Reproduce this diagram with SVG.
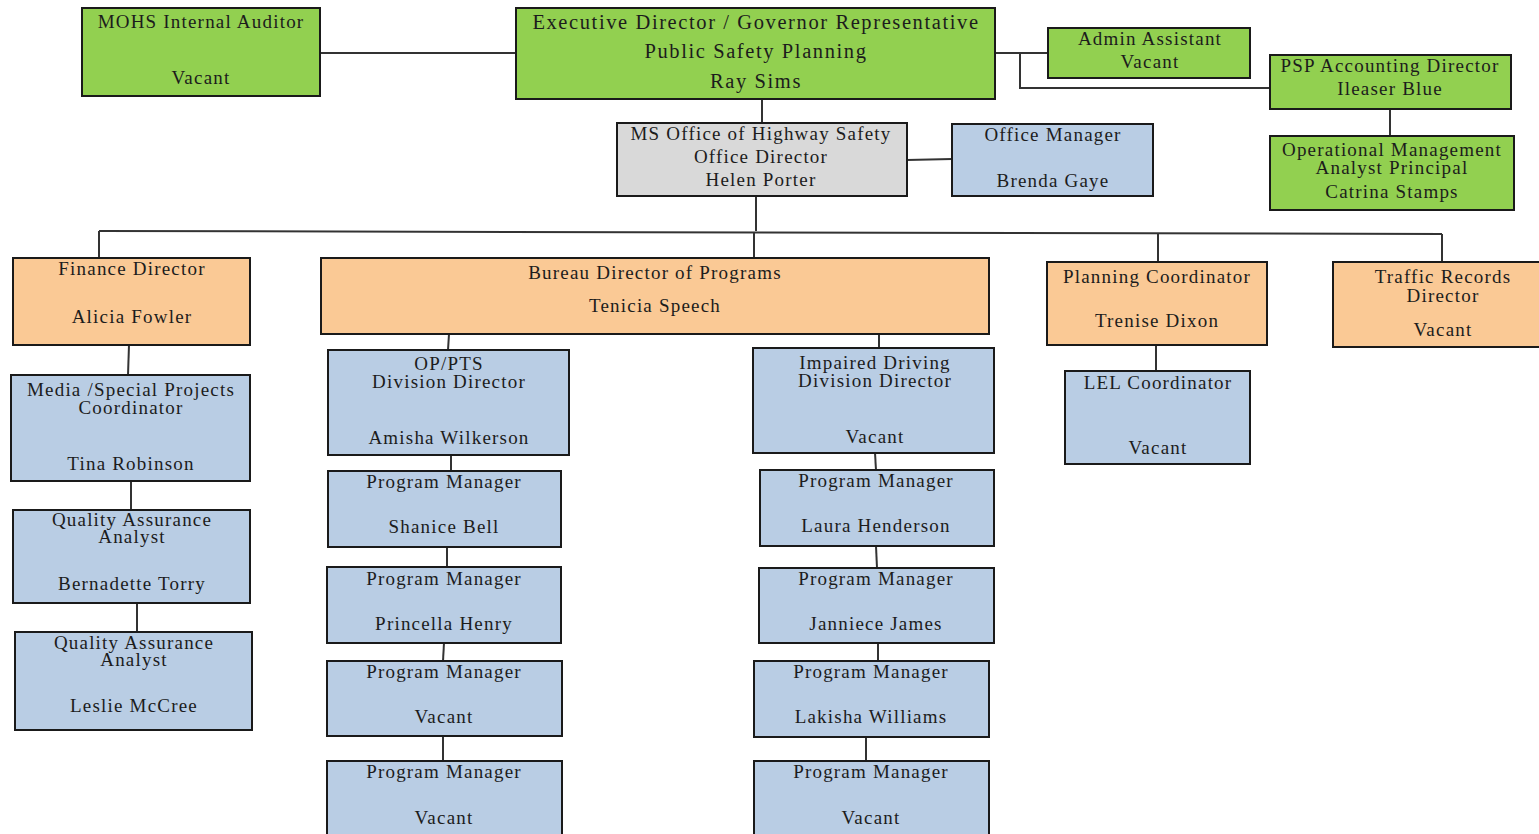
<svg xmlns="http://www.w3.org/2000/svg" width="1539" height="834" viewBox="0 0 1539 834">
<style>
.b{stroke:#1a1a1a;stroke-width:2}
.g{fill:#92d050}
.o{fill:#fac995}
.u{fill:#b9cde4}
.y{fill:#d9d9d9}
text{font-family:"Liberation Serif","Times New Roman",serif;font-size:19px;fill:#1c1c1c;text-anchor:middle;letter-spacing:1.2px}
text.big{font-size:20.5px;letter-spacing:1.6px}
.c line,.c polyline{stroke:#333;stroke-width:2;fill:none}
</style>
<rect width="1539" height="834" fill="#ffffff"/>
<g class="c" id="connectors">
<line x1="320" y1="53" x2="516" y2="53"/>
<line x1="995" y1="53" x2="1048" y2="53"/>
<polyline points="1020,53 1020,88 1270,88"/>
<line x1="762" y1="99" x2="762" y2="123"/>
<line x1="907" y1="160" x2="952" y2="159"/>
<line x1="756" y1="196" x2="756" y2="231"/>
<line x1="99" y1="231" x2="1442" y2="234"/>
<line x1="99" y1="231" x2="99" y2="258"/>
<line x1="754" y1="232" x2="754" y2="258"/>
<line x1="1158" y1="233" x2="1158" y2="262"/>
<line x1="1442" y1="234" x2="1442" y2="262"/>
<line x1="1390" y1="109" x2="1390" y2="136"/>
<line x1="129" y1="345" x2="128" y2="375"/>
<line x1="131" y1="481" x2="131" y2="510"/>
<line x1="137" y1="603" x2="137" y2="632"/>
<line x1="449" y1="334" x2="448" y2="350"/>
<line x1="879" y1="334" x2="879" y2="348"/>
<line x1="451" y1="455" x2="451" y2="471"/>
<line x1="447" y1="547" x2="447" y2="567"/>
<line x1="444" y1="643" x2="443" y2="661"/>
<line x1="443" y1="736" x2="443" y2="761"/>
<line x1="875" y1="453" x2="876" y2="470"/>
<line x1="876" y1="546" x2="877" y2="568"/>
<line x1="878" y1="643" x2="878" y2="661"/>
<line x1="866" y1="737" x2="866" y2="761"/>
<line x1="1156" y1="345" x2="1156" y2="371"/>
</g>
<g id="auditor"><rect class="b g" x="82" y="8" width="238" height="88"/><text x="201" y="28">MOHS Internal Auditor</text><text x="201" y="84">Vacant</text></g>
<g id="exec"><rect class="b g" x="516" y="8" width="479" height="91"/><text class="big" x="756" y="29">Executive Director / Governor Representative</text><text class="big" x="756" y="58">Public Safety Planning</text><text class="big" x="756" y="88">Ray Sims</text></g>
<g id="admin"><rect class="b g" x="1048" y="28" width="202" height="50"/><text x="1150" y="45">Admin Assistant</text><text x="1150" y="68">Vacant</text></g>
<g id="psp"><rect class="b g" x="1270" y="55" width="241" height="54"/><text x="1390" y="72">PSP Accounting Director</text><text x="1390" y="95">Ileaser Blue</text></g>
<g id="oma"><rect class="b g" x="1270" y="136" width="244" height="74"/><text x="1392" y="156">Operational Management</text><text x="1392" y="174">Analyst Principal</text><text x="1392" y="198">Catrina Stamps</text></g>
<g id="mohs"><rect class="b y" x="617" y="123" width="290" height="73"/><text x="761" y="140">MS Office of Highway Safety</text><text x="761" y="163">Office Director</text><text x="761" y="186">Helen Porter</text></g>
<g id="officemgr"><rect class="b u" x="952" y="124" width="201" height="72"/><text x="1053" y="141">Office Manager</text><text x="1053" y="187">Brenda Gaye</text></g>
<g id="finance"><rect class="b o" x="13" y="258" width="237" height="87"/><text x="132" y="275">Finance Director</text><text x="132" y="323">Alicia Fowler</text></g>
<g id="bureau"><rect class="b o" x="321" y="258" width="668" height="76"/><text x="655" y="279">Bureau Director of Programs</text><text x="655" y="312">Tenicia Speech</text></g>
<g id="planning"><rect class="b o" x="1047" y="262" width="220" height="83"/><text x="1157" y="283">Planning Coordinator</text><text x="1157" y="327">Trenise Dixon</text></g>
<g id="traffic"><rect class="b o" x="1333" y="262" width="210" height="85"/><text x="1443" y="283">Traffic Records</text><text x="1443" y="302">Director</text><text x="1443" y="336">Vacant</text></g>
<g id="media"><rect class="b u" x="11" y="375" width="239" height="106"/><text x="131" y="396">Media /Special Projects</text><text x="131" y="414">Coordinator</text><text x="131" y="470">Tina Robinson</text></g>
<g id="qa1"><rect class="b u" x="13" y="510" width="237" height="93"/><text x="132" y="526">Quality Assurance</text><text x="132" y="543">Analyst</text><text x="132" y="590">Bernadette Torry</text></g>
<g id="qa2"><rect class="b u" x="15" y="632" width="237" height="98"/><text x="134" y="649">Quality Assurance</text><text x="134" y="666">Analyst</text><text x="134" y="712">Leslie McCree</text></g>
<g id="oppts"><rect class="b u" x="328" y="350" width="241" height="105"/><text x="449" y="370">OP/PTS</text><text x="449" y="388">Division Director</text><text x="449" y="444">Amisha Wilkerson</text></g>
<g id="pm1"><rect class="b u" x="328" y="471" width="233" height="76"/><text x="444" y="488">Program Manager</text><text x="444" y="533">Shanice Bell</text></g>
<g id="pm2"><rect class="b u" x="327" y="567" width="234" height="76"/><text x="444" y="585">Program Manager</text><text x="444" y="630">Princella Henry</text></g>
<g id="pm3"><rect class="b u" x="327" y="661" width="235" height="75"/><text x="444" y="678">Program Manager</text><text x="444" y="723">Vacant</text></g>
<g id="pm4"><rect class="b u" x="327" y="761" width="235" height="80"/><text x="444" y="778">Program Manager</text><text x="444" y="824">Vacant</text></g>
<g id="impaired"><rect class="b u" x="753" y="348" width="241" height="105"/><text x="875" y="369">Impaired Driving</text><text x="875" y="387">Division Director</text><text x="875" y="443">Vacant</text></g>
<g id="pm5"><rect class="b u" x="760" y="470" width="234" height="76"/><text x="876" y="487">Program Manager</text><text x="876" y="532">Laura Henderson</text></g>
<g id="pm6"><rect class="b u" x="759" y="568" width="235" height="75"/><text x="876" y="585">Program Manager</text><text x="876" y="630">Janniece James</text></g>
<g id="pm7"><rect class="b u" x="754" y="661" width="235" height="76"/><text x="871" y="678">Program Manager</text><text x="871" y="723">Lakisha Williams</text></g>
<g id="pm8"><rect class="b u" x="754" y="761" width="235" height="80"/><text x="871" y="778">Program Manager</text><text x="871" y="824">Vacant</text></g>
<g id="lel"><rect class="b u" x="1065" y="371" width="185" height="93"/><text x="1158" y="389">LEL Coordinator</text><text x="1158" y="454">Vacant</text></g>
</svg>
